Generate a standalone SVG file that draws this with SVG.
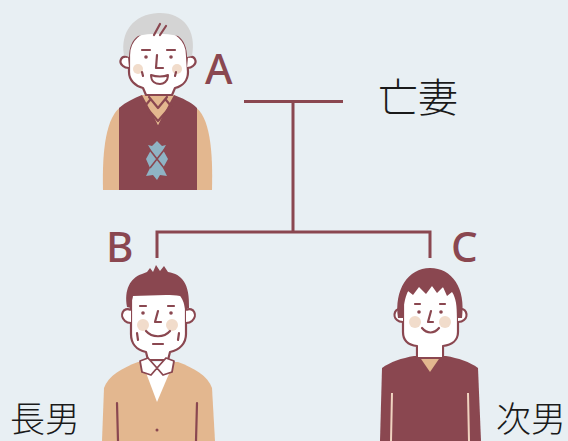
<svg xmlns="http://www.w3.org/2000/svg" width="568" height="441" viewBox="0 0 568 441">
  <style>
    .line { fill: none; stroke: #8a4750; stroke-width: 3; }
    .ink { fill: none; stroke: #8a4750; stroke-width: 2.2; stroke-linecap: round; stroke-linejoin: round; }
    .skin { fill: #ffffff; stroke: #8a4750; stroke-width: 2.2; stroke-linejoin: round; }
    .maroon { fill: #8a4750; }
    .tan { fill: #e3b78f; }
    .blush { fill: #f1dccb; }
    .letter { font-family: "Noto Sans", "Liberation Sans", sans-serif; font-size: 42px; font-weight: 500; fill: #8a4750; }
    .jp { font-family: "Noto Sans CJK JP", "Noto Sans", sans-serif; font-size: 35px; font-weight: 300; fill: #1a1a1a; }
  </style>
  <rect width="568" height="441" fill="#e8eff3"/>

  <!-- family tree connectors -->
  <g id="connectors">
    <path class="line" d="M244 101.5 H343"/>
    <path class="line" d="M293 101.5 V232 M157 258 V232 H430 V258"/>
  </g>

  <!-- A: grandfather -->
  <g id="node-a">
    <path class="tan" d="M103 190 C102 150 106 116 122 106 L142 95 L174 95 L194 106 C210 116 213 150 212 190 Z"/>
    <path class="maroon" d="M119 190 L119 108 C126 102 134 98 142 95 L158 125 L174 95 C182 98 191 102 197 108 L197 190 Z"/>
    <path class="tan" d="M146 95 L158 125 L170 95 Z"/>
    <path class="ink" d="M149 97 L158 108 L167 97 M150 100 L145 106 L158 121 M166 100 L171 106 L158 121"/>
    <path fill="#8fb3c4" d="M157 141 L162 146 L166 145 L163 150 L168 159 L163 168 L167 176 L160 175 L157 180 L153 175 L146 176 L150 168 L146 159 L151 150 L148 145 L152 146 Z"/>
    <path fill="none" stroke="#8a4750" stroke-width="1.6" d="M150 150 L164 168 M164 150 L150 168"/>
    <path class="skin" d="M129 55 C129 40 140 30 158 30 C176 30 187 40 187 55 L188 72 C188 80 183 86 175 88 L172 95 L146 95 L143 88 C135 86 129 80 129 72 Z"/>
    <path class="skin" d="M128 57 C121 55 118 62 123 66 C125 68 127 68 129 68"/>
    <path class="skin" d="M188 57 C195 55 198 62 193 66 C191 68 189 68 187 68"/>
    <path fill="#d4d4d4" d="M124 55 C120 32 134 14 158 13 C183 12 197 30 192 56 L187 57 C187 48 184 40 178 36 C165 33 150 33 138 36 C132 40 129 48 129 57 Z"/>
    <path class="ink" d="M154 35 L160 24 M160 35 L166 26"/>
    <path class="ink" d="M142 50 L150 50 M167 50 L175 50"/>
    <circle class="maroon" cx="146" cy="57" r="1.8"/>
    <circle class="maroon" cx="171" cy="57" r="1.8"/>
    <path class="ink" d="M157 55 L156 68 L163 68"/>
    <circle class="blush" cx="138" cy="69" r="5"/>
    <circle class="blush" cx="177" cy="69" r="5"/>
    <path fill="#ffffff" stroke="#8a4750" stroke-width="2" stroke-linejoin="round" d="M151 75 C156 77 164 77 168 75 C168 82 163 84 160 84 C156 84 151 82 151 75 Z"/>
    <path class="ink" d="M142 72 L143 76 M176 72 L175 76"/>
  </g>

  <!-- B: eldest son -->
  <g id="node-b">
    <path class="tan" d="M102 441 L104 388 C108 376 122 368 138 362 L178 362 C194 368 208 376 212 388 L215 441 Z"/>
    <path fill="#ffffff" d="M142 362 L157 402 L174 362 Z"/>
    <path class="ink" d="M117 403 L118 441 M197 403 L196 441"/>
    <circle class="maroon" cx="157" cy="430" r="1.5"/>
    <path class="skin" d="M131 300 C131 286 143 280 158 280 C173 280 186 286 186 300 L186 334 C186 343 180 350 170 352 L168 360 L148 360 L146 352 C136 350 131 343 131 334 Z"/>
    <path fill="#ffffff" stroke="#8a4750" stroke-width="1.8" stroke-linejoin="round" d="M140 361 L148 358 L157 368 L166 358 L174 361 L172 372 L163 375 L157 368 L151 375 L142 372 Z"/>
    <path class="skin" d="M131 310 C123 306 119 316 125 321 C127 323 129 323 131 323"/>
    <path class="skin" d="M186 310 C194 306 198 316 192 321 C190 323 188 323 186 323"/>
    <path class="maroon" d="M127 307 C124 290 130 278 142 274 L147 272 L150 268 L153 272 L156 265 L160 271 L164 266 L168 272 C182 274 190 284 189 308 L185 309 C184 302 182 298 180 296 C168 294 148 296 133 296 C132 300 131 304 131 308 Z"/>
    <path class="ink" d="M140 306 L146 306 M168 306 L174 306"/>
    <circle class="maroon" cx="143" cy="313" r="1.8"/>
    <circle class="maroon" cx="171" cy="313" r="1.8"/>
    <path class="ink" d="M158 311 L155 322 L161 322"/>
    <circle class="blush" cx="143" cy="325" r="6"/>
    <circle class="blush" cx="172" cy="325" r="6"/>
    <path class="ink" d="M146 331 C152 338 164 338 170 331"/>
    <path class="ink" d="M153 344 L163 344 M137 333 L138 340 M179 333 L178 340"/>
  </g>

  <!-- C: second son -->
  <g id="node-c">
    <path class="maroon" d="M380 441 L382 368 C390 362 402 358 414 356 L446 356 C458 358 470 362 478 368 L481 441 Z"/>
    <path class="tan" d="M419 356 L430 372 L441 356 Z"/>
    <path fill="none" stroke="#f0d3c0" stroke-width="2" d="M392 393 L391 441 M468 393 L469 441"/>
    <path class="skin" d="M403 300 C403 290 413 285 430 285 C447 285 458 290 458 300 L458 332 C458 340 452 345 443 346 L443 358 L417 358 L417 346 C408 345 403 340 403 332 Z"/>
    <path fill="#ffffff" d="M418 345 L442 345 L442 357 L418 357 Z"/>
    <path class="skin" d="M403 310 C395 306 392 316 397 320 C399 322 401 322 403 322"/>
    <path class="skin" d="M458 310 C466 306 469 316 464 320 C462 322 460 322 458 322"/>
    <path class="maroon" d="M398 318 C394 290 408 268 430 268 C452 268 466 288 462 318 L457 318 C457 306 456 298 452 292 L447 296 L443 287 L437 293 L432 286 L426 294 L419 287 L413 295 L408 291 C405 298 403 306 403 318 Z"/>
    <path class="ink" d="M415 304 L420 304 M440 304 L445 304"/>
    <circle class="maroon" cx="419" cy="312" r="1.8"/>
    <circle class="maroon" cx="441" cy="312" r="1.8"/>
    <path class="ink" d="M431 311 L428 322 L433 322"/>
    <circle class="blush" cx="415" cy="322" r="6"/>
    <circle class="blush" cx="445" cy="322" r="6"/>
    <path class="ink" d="M422 328 C427 334 434 334 439 328"/>
  </g>

  <!-- labels -->
  <g id="labels">
    <text class="letter" x="205" y="84">A</text>
    <text class="letter" x="106" y="262">B</text>
    <text class="letter" x="451" y="262">C</text>
    <text class="jp" x="378" y="112" style="font-size:40px">亡妻</text>
    <text class="jp" x="10" y="432">長男</text>
    <text class="jp" x="496" y="432">次男</text>
  </g>
</svg>
